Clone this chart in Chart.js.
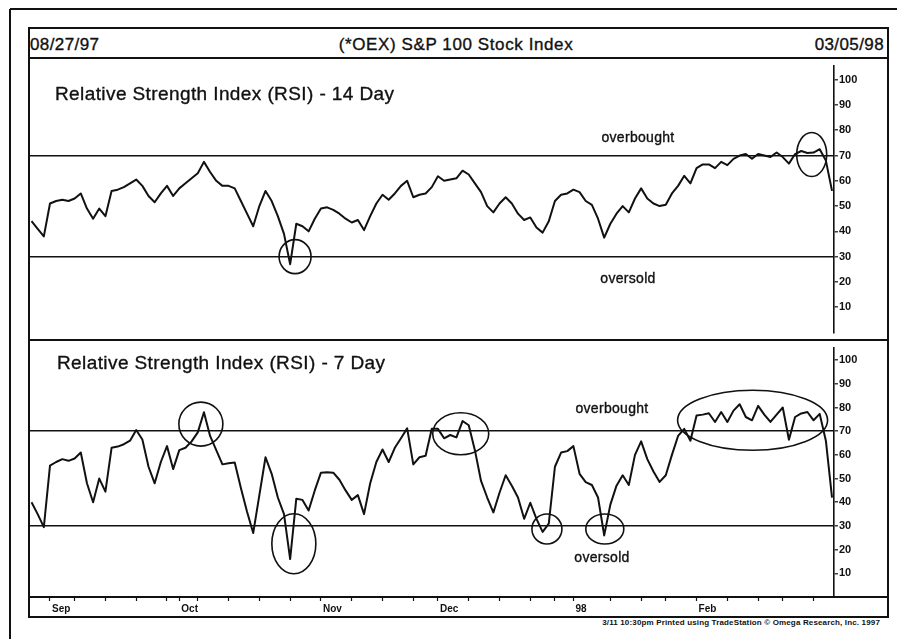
<!DOCTYPE html>
<html>
<head>
<meta charset="utf-8">
<script src="https://cdn.jsdelivr.net/npm/chart.js@4.4.0/dist/chart.umd.min.js"></script>
<style>
  body { margin:0; background:#fff; width:897px; height:639px; overflow:hidden; position:relative;
         font-family:"Liberation Sans", Arial, sans-serif; color:#111; }
  .ln { position:absolute; background:#111; }
  .t { position:absolute; white-space:nowrap; line-height:1; color:#111; -webkit-text-stroke:0.35px #111; }
  .c { transform:translate(-50%,-50%); }
  .v { transform:translate(0,-50%); }
  canvas { position:absolute; }
</style>
</head>
<body>
<!-- frame -->
<div class="ln" style="left:10px;top:8px;width:887px;height:2px"></div>
<div class="ln" style="left:9px;top:9px;width:2px;height:630px"></div>
<div class="ln" style="left:28px;top:27px;width:861px;height:2px"></div>
<div class="ln" style="left:28px;top:27px;width:2px;height:591px"></div>
<div class="ln" style="left:887px;top:27px;width:2px;height:591px"></div>
<div class="ln" style="left:28px;top:57px;width:861px;height:2px"></div>
<div class="ln" style="left:28px;top:339px;width:861px;height:2px"></div>
<div class="ln" style="left:28px;top:596px;width:861px;height:2px"></div>
<div class="ln" style="left:28px;top:616px;width:861px;height:2px"></div>

<canvas id="rsi14" width="858" height="282" style="left:29px;top:58px"></canvas>
<canvas id="rsi7" width="858" height="277" style="left:29px;top:340px"></canvas>

<div class="t v" style="left:30px;top:44px;font-size:17px;letter-spacing:0.4px">08/27/97</div>
<div class="t c" style="left:456px;top:44px;font-size:17px;letter-spacing:0.6px">(*OEX) S&amp;P 100 Stock Index</div>
<div class="t v" style="right:13px;top:44px;font-size:17px;letter-spacing:0.4px">03/05/98</div>

<div class="t v" style="left:55px;top:93px;font-size:19px;letter-spacing:0.4px">Relative Strength Index (RSI) - 14 Day</div>
<div class="t v" style="left:57px;top:362px;font-size:19px;letter-spacing:0.4px">Relative Strength Index (RSI) - 7 Day</div>

<div class="t c" style="left:638px;top:137px;font-size:14px;letter-spacing:0.3px">overbought</div>
<div class="t c" style="left:628px;top:278px;font-size:14px;letter-spacing:0.3px">oversold</div>
<div class="t c" style="left:612px;top:408px;font-size:14px;letter-spacing:0.3px">overbought</div>
<div class="t c" style="left:602px;top:557px;font-size:14px;letter-spacing:0.3px">oversold</div>

<div class="t v" style="right:17px;top:623px;font-size:8px;font-weight:bold;letter-spacing:0.15px;-webkit-text-stroke:0">3/11 10:30pm Printed using TradeStation &copy; Omega Research, Inc. 1997</div>

<script>
// trading days 08/27/97 .. 03/05/98, index 0..130
const rsi14 = [
  44, 41, 38, 51, 52, 52.5, 52, 53, 55, 49,
  45, 49, 46, 56, 56.5, 57.5, 59, 60.5, 58, 54,
  51.5, 55, 58, 54, 57, 59, 61, 63, 67.5, 63.5,
  60, 58, 58, 57, 52, 47, 42, 50, 56, 52,
  46, 39, 27, 43, 42, 40, 45, 49, 49.5, 48.5,
  47, 45, 43.5, 44.5, 40.5, 46, 51, 54.5, 52.5, 55,
  58, 60, 53.5, 54.5, 55, 57.5, 61.8, 60, 60.5, 61,
  64, 62.5, 59, 55.5, 50, 47.5, 51, 53.5, 51, 47,
  44.5, 45.5, 41.5, 39.5, 44, 52, 54.5, 55, 56.5, 55.5,
  52, 50.5, 45, 37.5, 43, 47, 50, 47.5, 53, 57,
  53, 51, 50, 50.5, 55, 58, 62, 59, 65, 66.5,
  66.5, 65, 67.5, 66.2, 68.7, 70, 70.6, 68.7, 70.6, 70,
  69.4, 71.2, 69.4, 66.8, 70.6, 71.8, 71, 71.2, 72.5, 68,
  56
];
const rsi7 = [
  40, 35, 29.5, 55.5, 57, 58.2, 57.5, 58.5, 61, 48,
  40, 50, 44.5, 63, 63.5, 64.5, 66, 70.5, 66.5, 55,
  48, 57, 63.7, 54, 62, 63, 65.7, 69.5, 78, 68,
  62, 56, 56.5, 56.8, 46, 36, 27, 43, 59, 52,
  42, 35, 16, 41.5, 41, 36.5, 45, 52.5, 52.7, 52.5,
  49.5, 45, 41, 43, 35, 48, 57, 62.3, 57, 63,
  67, 71.2, 56, 59, 59.6, 71, 71, 67, 68.4, 67.4,
  74.3, 72.5, 62, 49, 42, 35.7, 44, 51.4, 47, 42,
  33, 39.8, 33, 27.5, 31, 55, 61, 61.6, 63.7, 52,
  48.5, 47.3, 42, 26, 39, 47, 51.4, 47.3, 60, 65.7,
  58.2, 53, 48.6, 51.4, 60, 68, 71, 66, 76.6, 77,
  77.6, 73.9, 78.1, 73.9, 78.7, 81.4, 76, 74.6, 80.7, 77,
  73.9, 77, 80, 66.4, 76, 77.5, 78.1, 74.6, 77.3, 66,
  42
];
const yTicks = [10, 20, 30, 40, 50, 60, 70, 80, 90, 100];
const bandLevels = [30, 70];
const monthIdx = [3, 24, 47, 66, 88, 108];
const monthLabels = ['Sep', 'Oct', 'Nov', 'Dec', '98', 'Feb'];
const weekIdx = [7, 12, 17, 22, 27, 32, 37, 42, 52, 57, 62, 71, 76, 81, 85, 94, 99, 103, 113, 118, 122, 127];
// circled spots: [index, value, rx, ry]
const rings14 = [[42.8, 30, 16, 17], [126.7, 70.4, 15, 22]];
const rings7 = [[27.5, 73, 22, 22], [42.6, 22.5, 22, 30], [69.7, 68.9, 28, 21],
                [83.7, 28.7, 15, 15], [93.1, 28.7, 19, 15], [117.1, 74.6, 75, 30]];

const ink = '#111';
const fam = '"Liberation Sans", Arial, sans-serif';

const ringPlugin = {
  id: 'rings',
  afterDatasetsDraw(chart, args, opts) {
    const ctx = chart.ctx, xs = chart.scales.x, ys = chart.scales.y;
    ctx.save();
    ctx.strokeStyle = ink;
    ctx.lineWidth = 1.6;
    (opts.items || []).forEach(r => {
      ctx.beginPath();
      ctx.ellipse(xs.getPixelForValue(r[0]), ys.getPixelForValue(r[1]), r[2], r[3], 0, 0, Math.PI * 2);
      ctx.stroke();
    });
    ctx.restore();
  }
};

function yScale(max) {
  return {
    position: 'right', min: 0, max: max,
    afterFit: s => { s.width = 53; },
    afterBuildTicks: s => { s.ticks = yTicks.map(v => ({ value: v })); },
    grid: {
      color: c => (c.tick && bandLevels.includes(c.tick.value)) ? ink : 'rgba(0,0,0,0)',
      lineWidth: 1.6, tickColor: ink, tickLength: 4, tickWidth: 1.2
    },
    border: { display: true, color: ink, width: 1.6 },
    ticks: { color: ink, padding: 1, font: { family: fam, size: 11, weight: 'bold' } }
  };
}

function makeChart(id, values, yMax, rings, showX) {
  const xs = { type: 'linear', min: -0.41, max: 130.32, display: false };
  if (showX) {
    Object.assign(xs, {
      display: true,
      afterFit: s => { s.height = 20; },
      afterBuildTicks: s => {
        s.ticks = monthIdx.concat(weekIdx).sort((a, b) => a - b).map(v => ({ value: v }));
      },
      grid: { drawOnChartArea: false, color: ink, tickLength: 4, tickWidth: 1.2 },
      border: { display: true, color: ink, width: 1.6 },
      ticks: {
        autoSkip: false, maxRotation: 0, align: 'start', labelOffset: 2, padding: 2,
        color: ink, font: { family: fam, size: 10, weight: 'bold' },
        callback: v => { const k = monthIdx.indexOf(v); return k >= 0 ? monthLabels[k] : ''; }
      }
    });
  }
  return new Chart(document.getElementById(id), {
    type: 'line',
    data: {
      datasets: [{
        data: values.map((v, i) => ({ x: i, y: v })),
        borderColor: ink, borderWidth: 2, pointRadius: 0, tension: 0,
        borderJoinStyle: 'round', fill: false
      }]
    },
    options: {
      responsive: false, animation: false,
      layout: { padding: 0 },
      plugins: { legend: { display: false }, tooltip: { enabled: false }, rings: { items: rings } },
      scales: { x: xs, y: yScale(yMax) }
    },
    plugins: [ringPlugin]
  });
}

makeChart('rsi14', rsi14, 105.6, rings14, false);
makeChart('rsi7', rsi7, 105.3, rings7, true);
</script>
</body>
</html>
